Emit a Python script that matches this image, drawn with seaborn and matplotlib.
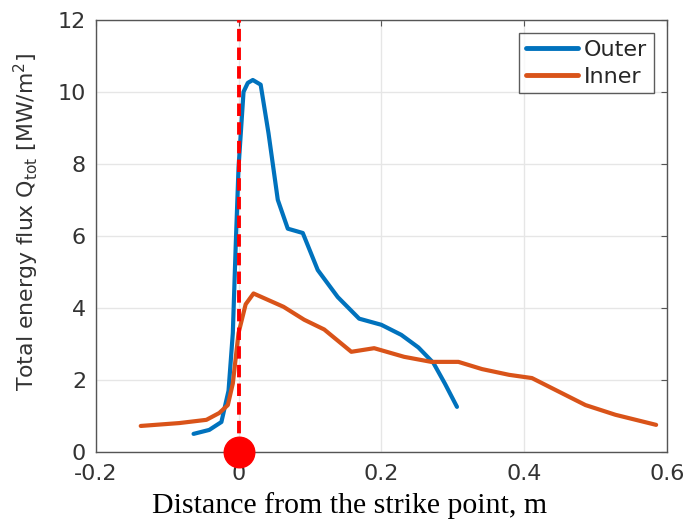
import numpy as np
import pandas as pd
import matplotlib
matplotlib.use("Agg")
import matplotlib.pyplot as plt
import seaborn as sns

outer_x = [-0.063, -0.041, -0.024, -0.014, -0.008, -0.004, 0.0, 0.007, 0.013, 0.02, 0.031, 0.042,
           0.055, 0.069, 0.09, 0.111, 0.139, 0.169, 0.2, 0.228, 0.252, 0.273, 0.289, 0.306]
outer_y = [0.5, 0.61, 0.83, 1.7, 3.3, 5.7, 7.9, 10.0, 10.25, 10.33, 10.2, 8.85,
           7.0, 6.2, 6.08, 5.05, 4.3, 3.7, 3.53, 3.25, 2.9, 2.47, 1.9, 1.25]

inner_x = [-0.137, -0.083, -0.045, -0.027, -0.015, -0.008, 0.0, 0.01, 0.021, 0.063, 0.092,
           0.12, 0.158, 0.19, 0.232, 0.27, 0.308, 0.341, 0.379, 0.411, 0.444, 0.486, 0.528, 0.585]
inner_y = [0.72, 0.8, 0.89, 1.08, 1.3, 1.9, 3.3, 4.1, 4.4, 4.03, 3.67,
           3.4, 2.78, 2.88, 2.64, 2.5, 2.5, 2.3, 2.14, 2.05, 1.72, 1.3, 1.03, 0.75]

xticks = [-0.2, 0, 0.2, 0.4, 0.6]
xtick_labels = ["-0.2", "0", "0.2", "0.4", "0.6"]
yticks = [0, 2, 4, 6, 8, 10, 12]

df = pd.concat([
    pd.DataFrame({"x": outer_x, "y": outer_y, "series": "Outer"}),
    pd.DataFrame({"x": inner_x, "y": inner_y, "series": "Inner"}),
])

sns.set_style("white")
plt.rcParams["font.family"] = ["DejaVu Sans"]

fig = plt.figure(figsize=(6.99, 5.23), dpi=100)
ax = fig.add_axes([0.137, 0.136, 0.817, 0.826])

sns.lineplot(data=df, x="x", y="y", hue="series", sort=False, estimator=None,
             palette={"Outer": "#0072BD", "Inner": "#D95319"}, linewidth=3.0, ax=ax)

ax.axvline(0, color="#FF0000", linestyle=(0, (3.2, 1.6)), linewidth=2.8, zorder=5)
ax.plot([0], [0], "o", color="#FF0000", markersize=22, clip_on=False, zorder=6)

ax.set_xlim(-0.2, 0.6)
ax.set_ylim(0, 12)
ax.set_xticks(xticks)
ax.set_xticklabels(xtick_labels)
ax.set_yticks(yticks)
ax.grid(True, color="#e6e6e6", linewidth=1)
ax.tick_params(direction="in", top=True, right=True, length=4, labelsize=16,
               labelcolor="#333333", color="#555555")
ax.tick_params(axis="x", pad=9)
ax.tick_params(axis="y", pad=7)
for s in ax.spines.values():
    s.set_color("#555555")
    s.set_linewidth(1.0)

ax.set_xlabel("Distance from the strike point, m", family="Liberation Serif",
              fontsize=21.5, color="black", va="center")
ax.xaxis.set_label_coords((350 - 96) / 571, -0.125)
ax.set_ylabel(r"Total energy flux Q$_{\mathrm{tot}}$ [MW/m$^2$]", fontsize=15.8,
              color="#333333", va="center")
ax.yaxis.set_label_coords(-0.121, 0.532)

leg = ax.legend(loc="upper right", fontsize=16, frameon=True, fancybox=False,
                edgecolor="#333333", handlelength=2.35, handletextpad=0.25,
                borderpad=0.3, labelspacing=0.3, borderaxespad=0.6)
leg.get_frame().set_linewidth(1.0)
for line in leg.get_lines():
    line.set_linewidth(3.5)

fig.savefig("out.png", dpi=100)
